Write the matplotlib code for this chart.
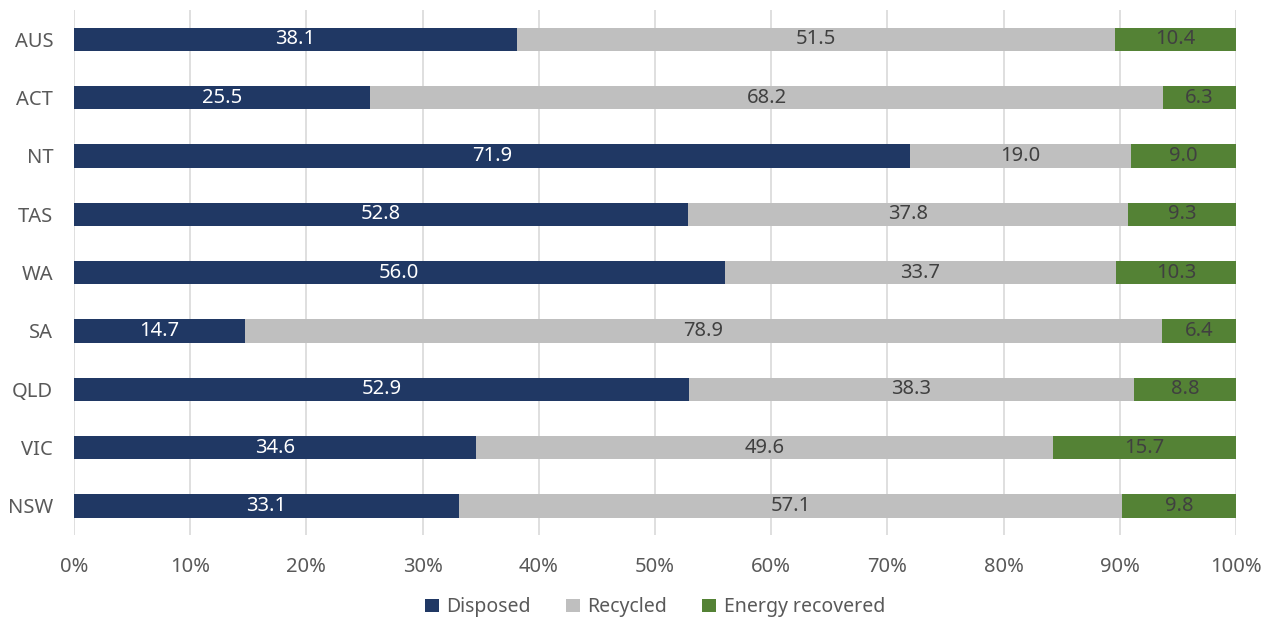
import numpy as np
import matplotlib
matplotlib.use('Agg')
import matplotlib.pyplot as plt
from matplotlib.ticker import PercentFormatter

plt.rcParams['font.family'] = ['Noto Sans', 'DejaVu Sans']

regions = ['AUS', 'ACT', 'NT', 'TAS', 'WA', 'SA', 'QLD', 'VIC', 'NSW']
disposed = [38.1, 25.5, 71.9, 52.8, 56.0, 14.7, 52.9, 34.6, 33.1]
recycled = [51.5, 68.2, 19.0, 37.8, 33.7, 78.9, 38.3, 49.6, 57.1]
energy = [10.4, 6.3, 9.0, 9.3, 10.3, 6.4, 8.8, 15.7, 9.8]

series = [
    ('Disposed', disposed, '#203864', 'white'),
    ('Recycled', recycled, '#BFBFBF', '#404040'),
    ('Energy recovered', energy, '#548235', '#404040'),
]

fig = plt.figure(figsize=(12.74, 6.19), dpi=100)
ax = fig.add_axes([0.0581, 0.1357, 0.912, 0.848])

y = np.arange(len(regions))[::-1]
totals = np.array(disposed) + np.array(recycled) + np.array(energy)
left = np.zeros(len(regions))
for name, vals, col, tcol in series:
    share = np.array(vals) / totals * 100
    bars = ax.barh(y, share, left=left, height=0.4, color=col, label=name, zorder=2)
    ax.bar_label(bars, labels=['%.1f' % v for v in vals], label_type='center',
                 color=tcol, fontsize=14.5)
    left += share

ax.set_xlim(0, 100)
ax.set_ylim(-0.5, len(regions) - 0.5)
ax.set_yticks(y)
ax.set_yticklabels(regions)
ax.set_xticks(np.arange(0, 101, 10))
ax.xaxis.set_major_formatter(PercentFormatter(decimals=0))
ax.tick_params(axis='both', length=0, labelsize=14.5, labelcolor='#595959')
ax.tick_params(axis='x', pad=16)
ax.tick_params(axis='y', pad=15)
ax.grid(axis='x', color='#D9D9D9', linewidth=1.2, zorder=0)
for s in ax.spines.values():
    s.set_visible(False)

ax.legend(loc='upper center', bbox_to_anchor=(0.5, -0.085), ncol=3, frameon=False,
          fontsize=14, labelcolor='#595959', handlelength=0.7, handleheight=0.7,
          handletextpad=0.4, columnspacing=1.8)

fig.savefig('out.png', dpi=100)
